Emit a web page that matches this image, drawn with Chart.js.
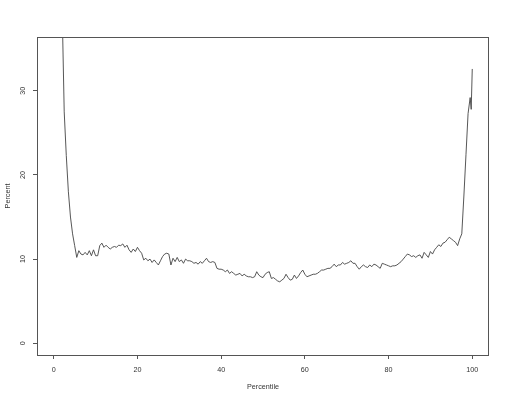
<!DOCTYPE html>
<html>
<head>
<meta charset="utf-8">
<script src="https://cdn.jsdelivr.net/npm/chart.js@4"></script>
<style>
html,body{margin:0;padding:0;background:#fff;}
#wrap{width:509px;height:402px;}
</style>
</head>
<body>
<div id="wrap"><canvas id="c" width="509" height="402"></canvas></div>
<script>
const percentile = [
  0.5,1,1.5,2,2.5,3,3.5,4,4.5,5,
  5.5,6,6.5,7,7.5,8,8.5,9,9.5,10,
  10.5,11,11.5,12,12.5,13,13.5,14,14.5,15,
  15.5,16,16.5,17,17.5,18,18.5,19,19.5,20,
  20.5,21,21.5,22,22.5,23,23.5,24,24.5,25,
  25.5,26,26.5,27,27.5,28,28.5,29,29.5,30,
  30.5,31,31.5,32,32.5,33,33.5,34,34.5,35,
  35.5,36,36.5,37,37.5,38,38.5,39,39.5,40,
  40.5,41,41.5,42,42.5,43,43.5,44,44.5,45,
  45.5,46,46.5,47,47.5,48,48.5,49,49.5,50,
  50.5,51,51.5,52,52.5,53,53.5,54,54.5,55,
  55.5,56,56.5,57,57.5,58,58.5,59,59.5,60,
  60.5,61,61.5,62,62.5,63,63.5,64,64.5,65,
  65.5,66,66.5,67,67.5,68,68.5,69,69.5,70,
  70.5,71,71.5,72,72.5,73,73.5,74,74.5,75,
  75.5,76,76.5,77,77.5,78,78.5,79,79.5,80,
  80.5,81,81.5,82,82.5,83,83.5,84,84.5,85,
  85.5,86,86.5,87,87.5,88,88.5,89,89.5,90,
  90.5,91,91.5,92,92.5,93,93.5,94,94.5,95,
  95.5,96,96.5,97,97.5,98,98.5,99,99.5,99.75,100
];
const percent = [
  95,72,55,40,27.5,22.3,18,15,13,11.6,
  10.2,11.0,10.6,10.5,10.8,10.5,11.0,10.4,11.1,10.4,
  10.4,11.6,11.9,11.4,11.65,11.4,11.2,11.4,11.5,11.4,
  11.65,11.6,11.8,11.4,11.65,11.1,10.8,11.2,10.9,11.4,
  11.0,10.7,9.9,10.1,9.8,10.0,9.6,9.9,9.6,9.3,
  9.8,10.3,10.6,10.7,10.6,9.3,10.1,9.7,10.2,9.7,
  9.9,9.5,10.0,9.8,9.8,9.7,9.5,9.6,9.4,9.7,
  9.5,9.8,10.1,9.7,9.6,9.7,9.6,8.9,8.8,8.8,
  8.7,8.5,8.7,8.3,8.5,8.3,8.1,8.2,8.3,8.0,
  8.2,8.0,7.9,7.9,7.8,7.9,8.5,8.1,7.9,7.8,
  8.2,8.4,8.5,7.7,7.8,7.6,7.4,7.3,7.5,7.7,
  8.2,7.8,7.5,7.6,8.1,7.7,8.0,8.4,8.7,8.2,
  7.9,8.0,8.1,8.2,8.2,8.3,8.5,8.7,8.7,8.8,
  8.9,8.9,9.1,9.4,9.1,9.3,9.3,9.6,9.4,9.5,
  9.6,9.8,9.5,9.5,9.1,8.8,9.1,9.3,9.1,9.0,
  9.3,9.1,9.4,9.3,9.1,8.9,9.5,9.4,9.3,9.2,
  9.1,9.2,9.2,9.3,9.5,9.7,10.0,10.3,10.6,10.5,
  10.3,10.4,10.2,10.4,10.5,10.1,10.8,10.5,10.2,10.9,
  10.6,11.1,11.4,11.7,11.5,11.9,12.0,12.3,12.6,12.4,
  12.2,12.0,11.6,12.4,13.0,17.5,22.4,27.3,29.2,27.8,32.6
];
const xTicks = [0, 20, 40, 60, 80, 100];
const yTicks = [0, 10, 20, 30];
const xTitle = 'Percentile';
const yTitle = 'Percent';

const points = percentile.map((p, i) => ({x: p, y: percent[i]}));
const FONT = {family: '"Liberation Sans", Arial, sans-serif', size: 7.2};
const INK = '#555';

const boxPlugin = {
  id: 'box',
  afterDraw(chart) {
    const a = chart.chartArea, ctx = chart.ctx;
    ctx.save();
    ctx.strokeStyle = INK;
    ctx.lineWidth = 1;
    ctx.strokeRect(Math.round(a.left) + 0.5, Math.round(a.top) + 0.5,
      Math.round(a.right - a.left) - 1, Math.round(a.bottom - a.top));
    ctx.restore();
  }
};

new Chart(document.getElementById('c'), {
  type: 'line',
  data: {
    datasets: [{
      data: points,
      borderColor: '#444',
      borderWidth: 0.9,
      pointRadius: 0,
      tension: 0,
      fill: false
    }]
  },
  options: {
    responsive: false,
    animation: false,
    devicePixelRatio: 1,
    layout: {padding: {top: 37, right: 20, left: 0, bottom: 0}},
    plugins: {legend: {display: false}, tooltip: {enabled: false}},
    scales: {
      x: {
        type: 'linear',
        min: -4, max: 104,
        afterBuildTicks: s => { s.ticks = xTicks.map(v => ({value: v})); },
        afterFit: s => { s.height = 47; },
        border: {display: false},
        grid: {display: true, drawOnChartArea: false, drawTicks: true, tickLength: 4, color: INK, lineWidth: 1},
        ticks: {color: '#333', font: FONT, padding: 6.5, maxRotation: 0, autoSkip: false},
        title: {display: true, text: xTitle, color: '#333', font: FONT, padding: {top: 0, bottom: 10.4}}
      },
      y: {
        type: 'linear',
        min: -1.4, max: 36.4,
        afterBuildTicks: s => { s.ticks = yTicks.map(v => ({value: v})); },
        afterFit: s => { s.width = 37; },
        border: {display: false},
        grid: {display: true, drawOnChartArea: false, drawTicks: true, tickLength: 4, color: INK, lineWidth: 1},
        ticks: {color: '#333', font: FONT, padding: 6, minRotation: 90, maxRotation: 90, crossAlign: 'center', autoSkip: false},
        title: {display: true, text: yTitle, color: '#333', font: FONT, padding: {top: 4, bottom: 0}}
      }
    }
  },
  plugins: [boxPlugin]
});
</script>
</body>
</html>
